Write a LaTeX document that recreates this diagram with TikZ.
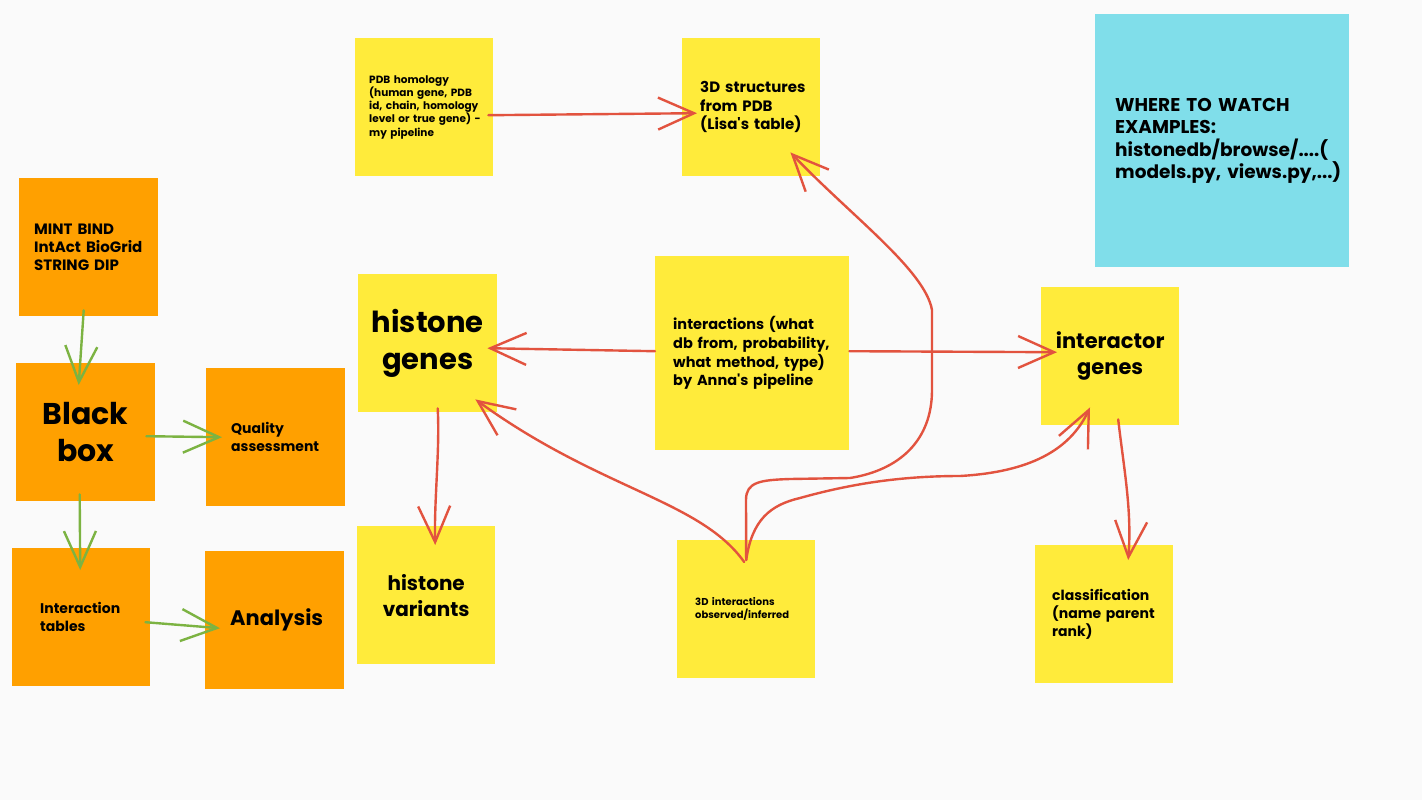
\documentclass[tikz,border=0pt]{standalone}
\usepackage{fontspec}
\setmainfont{Poppins}
\usetikzlibrary{arrows.meta}
\definecolor{paper}{HTML}{FAFAFA}
\definecolor{stickyyellow}{HTML}{FFEB3B}
\definecolor{stickyorange}{HTML}{FFA000}
\definecolor{stickycyan}{HTML}{80DEEA}
\definecolor{penred}{HTML}{E2533F}
\definecolor{pengreen}{HTML}{7CB342}
\newcommand{\fs}[2]{\fontsize{#1}{#2}\selectfont}
\newcommand{\q}{\textquotesingle}
\begin{document}
\begin{tikzpicture}[x=1pt,y=-1pt,
    note/.style={
        anchor=north west,
        minimum height=138pt,
        inner ysep=0pt,
        align=left,
        text=black,
        execute at begin node={\hyphenpenalty=10000 \exhyphenpenalty=10000 \hbadness=10000 \hfuzz=100pt}
    },
    yellow/.style={note, fill=stickyyellow},
    orange/.style={note, fill=stickyorange},
    pen/.style={
        line width=2.4pt,
        line cap=round,
        line join=round,
        -{Straight Barb[length=36pt,width=32pt]}
    },
    redpen/.style={pen, penred},
    greenpen/.style={pen, pengreen}
]

    \fill[paper] (0,0) rectangle (1422,800);

    % left column
    \node[orange, inner xsep=15pt, text width=109pt, font=\bfseries\fs{15}{18}] (src) at (19,178)
        {MINT~BIND\\IntAct~BioGrid\\STRING~DIP};
    \node[orange, inner xsep=0pt, text width=139pt, align=center, font=\bfseries\fs{30}{37}] (bbox) at (16,363)
        {Black\\box};
    \node[orange, inner xsep=25pt, text width=89pt, font=\bfseries\fs{14}{18}] (qual) at (206,368)
        {Quality\\assessment};
    \node[orange, inner xsep=28pt, text width=82pt, font=\bfseries\fs{14}{18}] (itab) at (12,548)
        {Interaction\\tables};
    \node[orange, inner xsep=25pt, text width=89pt, font=\bfseries\fs{21}{26}] (anal) at (205,551)
        {Analysis};

    % database notes
    \node[yellow, inner xsep=14pt, text width=110pt, font=\bfseries\fs{10.5}{13.3}] (pdb) at (355,38)
        {PDB~homology\\(human~gene,~PDB\\id,~chain,~homology\\level~or~true~gene)~-\\my~pipeline};
    \node[yellow, inner xsep=18pt, text width=102pt, font=\bfseries\fs{15}{18.5}] (struct) at (682,38)
        {3D~structures\\from~PDB\\(Lisa\q s~table)};
    \node[yellow, inner xsep=0pt, text width=139pt, align=center, font=\bfseries\fs{29}{37}] (hgen) at (358,274)
        {histone\\genes};
    \node[yellow, minimum height=194pt, inner xsep=18pt, text width=158pt, font=\bfseries\fs{14.5}{18.7}] (inter) at (655,256)
        {interactions~(what\\db~from,~probability,\\what~method,~type)\\by~Anna\q s~pipeline};
    \node[yellow, inner xsep=0pt, text width=138pt, align=center, font=\bfseries\fs{21}{26}] (igen) at (1041,287)
        {interactor\\genes};
    \node[yellow, inner xsep=0pt, text width=138pt, align=center, font=\bfseries\fs{20}{26}] (hvar) at (357,526)
        {histone\\variants};
    \node[yellow, inner xsep=18pt, text width=102pt, font=\bfseries\fs{10}{13}] (int3d) at (677,540)
        {3D~interactions\\observed/inferred};
    \node[yellow, inner xsep=17pt, text width=104pt, font=\bfseries\fs{14}{18}] (class) at (1035,545)
        {classification\\(name~parent\\rank)};

    \node[note, fill=stickycyan, minimum height=253pt, inner xsep=20pt, text width=214pt, font=\bfseries\fs{18.5}{22.5}] (watch) at (1095,14)
        {WHERE~TO~WATCH\\EXAMPLES:\\histonedb/browse/....(\\models.py,~views.py,...)};

    % green pen
    \draw[greenpen] ([shift={(-5,-6)}]src.south) -- ([shift={(-7,22)}]bbox.north);
    \draw[greenpen] ([shift={(-9,4)}]bbox.east) -- ([shift={(16,0)}]qual.west);
    \draw[greenpen] ([shift={(-6,-7)}]bbox.south) -- ([shift={(-1,22)}]itab.north);
    \draw[greenpen] ([shift={(-5,5)}]itab.east) -- ([shift={(15,8)}]anal.west);

    % red pen
    \draw[redpen] ([shift={(-5,8)}]pdb.east) -- ([shift={(15,6)}]struct.west);
    \draw[redpen] ([shift={(0,-2)}]inter.west) -- ([shift={(-10,5)}]hgen.east);
    \draw[redpen] ([shift={(0,-2)}]inter.east) -- ([shift={(16,-4)}]igen.west);
    \draw[redpen] ([shift={(10,-4)}]hgen.south) .. controls (440,450) and (434,500) .. ([shift={(9,19)}]hvar.north);
    \draw[redpen] ([shift={(8,-6)}]igen.south) .. controls (1124,470) and (1132,510) .. ([shift={(24,15)}]class.north);

    \draw[redpen] ([shift={(-2,22)}]int3d.north) .. controls (700,500) and (600,490) .. ([shift={(-22,-13)}]hgen.south east);
    \draw[redpen] ([shift={(0,20)}]int3d.north) -- (746,500)
        .. controls (746,482) and (760,480) .. (790,479) -- (850,478)
        .. controls (900,470) and (932,440) .. (932,390) -- (932,310)
        .. controls (925,270) and (850,215) .. ([shift={(-30,-24)}]struct.south east);
    \draw[redpen] ([shift={(0,20)}]int3d.north)
        .. controls (752,520) and (770,505) .. (800,498)
        .. controls (850,484) and (900,476) .. (960,476)
        .. controls (1030,472) and (1070,450) .. ([shift={(49,-18)}]igen.south west);

\end{tikzpicture}
\end{document}
